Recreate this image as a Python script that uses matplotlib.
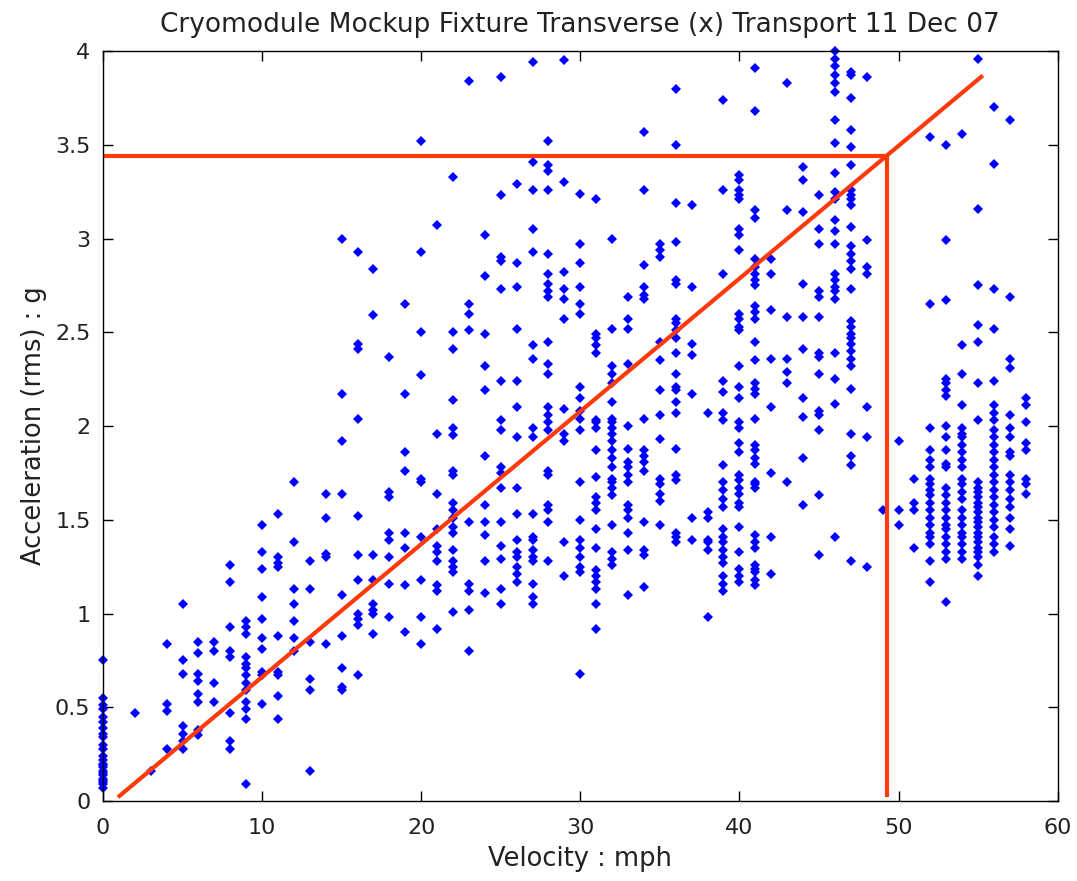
import numpy as np
import matplotlib.pyplot as plt

# velocity columns (mph) and the rms acceleration points (g) read at each
speeds = list(range(0, 59))
accel = {
    0: [0.75, 0.55, 0.51, 0.49, 0.45, 0.42, 0.39, 0.36, 0.34, 0.30, 0.28, 0.24, 0.22, 0.20,
        0.19, 0.18, 0.16, 0.15, 0.14, 0.12, 0.11, 0.10, 0.09, 0.07],
    2: [0.47],
    3: [0.16],
    4: [0.84, 0.52, 0.48, 0.28],
    5: [1.05, 0.75, 0.68, 0.40, 0.36, 0.32, 0.28],
    6: [0.85, 0.79, 0.68, 0.64, 0.57, 0.53, 0.38, 0.35],
    7: [0.85, 0.80, 0.63, 0.53],
    8: [1.26, 1.17, 0.93, 0.80, 0.77, 0.47, 0.32, 0.28],
    9: [0.96, 0.93, 0.89, 0.77, 0.73, 0.71, 0.67, 0.63, 0.59, 0.53, 0.49, 0.44, 0.09],
    10: [1.47, 1.33, 1.24, 1.09, 0.97, 0.87, 0.81, 0.69, 0.67, 0.52],
    11: [1.53, 1.30, 1.27, 1.25, 0.88, 0.69, 0.67, 0.56, 0.44],
    12: [1.70, 1.38, 1.13, 1.05, 0.96, 0.87, 0.80],
    13: [1.28, 1.13, 0.85, 0.65, 0.59, 0.16],
    14: [1.64, 1.51, 1.32, 1.30, 0.84],
    15: [3.00, 2.17, 1.92, 1.64, 1.10, 0.88, 0.71, 0.61, 0.59],
    16: [2.93, 2.44, 2.41, 2.04, 1.52, 1.31, 1.18, 1.00, 0.97, 0.94, 0.67],
    17: [2.84, 2.59, 1.31, 1.18, 1.05, 1.02, 1.00, 0.89],
    18: [2.37, 1.65, 1.62, 1.43, 1.39, 1.30, 1.16, 0.98],
    19: [2.65, 2.17, 1.86, 1.76, 1.43, 1.35, 1.15, 0.90],
    20: [3.52, 2.93, 2.50, 2.27, 1.72, 1.70, 1.41, 1.18, 0.98, 0.84],
    21: [3.07, 1.96, 1.64, 1.45, 1.36, 1.33, 1.28, 1.15, 1.12, 0.92],
    22: [3.33, 2.50, 2.41, 2.14, 1.99, 1.95, 1.76, 1.74, 1.59, 1.55, 1.51, 1.46, 1.43, 1.34,
         1.28, 1.25, 1.22, 1.01],
    23: [3.84, 2.65, 2.60, 2.51, 1.49, 1.16, 1.12, 1.02, 0.80],
    24: [3.02, 2.80, 2.49, 2.32, 2.19, 1.84, 1.58, 1.49, 1.42, 1.28, 1.11],
    25: [3.86, 3.23, 2.90, 2.88, 2.73, 2.24, 2.03, 1.98, 1.78, 1.75, 1.67, 1.49, 1.36, 1.29,
         1.13, 1.05],
    26: [3.29, 2.87, 2.74, 2.52, 2.24, 2.10, 1.94, 1.67, 1.53, 1.39, 1.33, 1.30, 1.25, 1.21, 1.17],
    27: [3.94, 3.41, 3.26, 3.05, 2.93, 2.43, 2.36, 1.99, 1.94, 1.53, 1.41, 1.39, 1.34, 1.30,
         1.28, 1.16, 1.09, 1.05],
    28: [3.52, 3.39, 3.36, 3.26, 2.92, 2.81, 2.76, 2.72, 2.69, 2.45, 2.33, 2.28, 2.10, 2.06,
         2.02, 1.98, 1.76, 1.74, 1.58, 1.55, 1.49, 1.28],
    29: [3.95, 3.30, 2.82, 2.73, 2.68, 2.57, 2.09, 1.96, 1.92, 1.38, 1.20],
    30: [3.24, 2.97, 2.87, 2.74, 2.65, 2.60, 2.21, 2.15, 2.08, 2.04, 1.98, 1.70, 1.50, 1.39,
         1.35, 1.30, 1.25, 1.22, 0.68],
    31: [3.21, 2.49, 2.47, 2.43, 2.39, 2.03, 2.02, 1.99, 1.87, 1.73, 1.62, 1.59, 1.55, 1.45,
         1.35, 1.23, 1.20, 1.17, 1.13, 1.05, 0.92],
    32: [3.00, 2.52, 2.32, 2.28, 2.23, 2.13, 2.04, 2.02, 1.99, 1.96, 1.92, 1.87, 1.83, 1.78,
         1.72, 1.70, 1.67, 1.63, 1.47, 1.33, 1.29, 1.26],
    33: [2.69, 2.57, 2.52, 2.33, 2.00, 1.88, 1.81, 1.78, 1.74, 1.70, 1.58, 1.55, 1.51, 1.43,
         1.34, 1.10],
    34: [3.57, 3.26, 2.86, 2.74, 2.70, 2.68, 2.04, 1.87, 1.84, 1.81, 1.76, 1.49, 1.34, 1.31, 1.14],
    35: [2.97, 2.94, 2.90, 2.45, 2.35, 2.19, 2.06, 1.93, 1.72, 1.69, 1.64, 1.60, 1.47],
    36: [3.80, 3.50, 3.19, 2.98, 2.78, 2.76, 2.57, 2.55, 2.51, 2.47, 2.39, 2.28, 2.21, 2.19,
         2.13, 2.07, 1.88, 1.74, 1.71, 1.43, 1.41, 1.38],
    37: [3.18, 2.74, 2.44, 2.38, 2.17, 1.51, 1.39],
    38: [2.07, 1.54, 1.51, 1.39, 1.38, 1.34, 0.98],
    39: [3.74, 3.26, 2.81, 2.24, 2.18, 2.07, 2.03, 1.79, 1.70, 1.66, 1.61, 1.57, 1.45, 1.41,
         1.38, 1.34, 1.30, 1.27, 1.20, 1.16, 1.12],
    40: [3.34, 3.31, 3.26, 3.23, 3.21, 3.05, 3.02, 2.94, 2.60, 2.57, 2.53, 2.51, 2.32, 2.21,
         2.15, 2.02, 1.99, 1.91, 1.86, 1.74, 1.71, 1.67, 1.64, 1.59, 1.57, 1.46, 1.33, 1.24,
         1.20, 1.17],
    41: [3.91, 3.68, 3.15, 3.11, 2.89, 2.85, 2.81, 2.78, 2.75, 2.64, 2.61, 2.57, 2.45, 2.35,
         2.23, 2.20, 2.17, 2.04, 1.90, 1.87, 1.83, 1.80, 1.70, 1.69, 1.67, 1.42, 1.38, 1.35,
         1.26, 1.24, 1.22, 1.18, 1.15],
    42: [2.89, 2.81, 2.62, 2.36, 2.10, 1.75, 1.41, 1.21],
    43: [3.83, 3.15, 2.58, 2.36, 2.29, 2.23, 1.70],
    44: [3.38, 3.31, 3.14, 2.76, 2.58, 2.41, 2.15, 2.05, 1.83, 1.58],
    45: [3.23, 3.05, 2.97, 2.72, 2.69, 2.58, 2.39, 2.37, 2.28, 2.08, 2.06, 1.98, 1.63, 1.31],
    46: [4.00, 3.96, 3.92, 3.87, 3.83, 3.78, 3.63, 3.51, 3.35, 3.25, 3.21, 3.10, 3.04, 2.97,
         2.81, 2.78, 2.74, 2.72, 2.68, 2.39, 2.25, 2.12, 1.41],
    47: [3.89, 3.87, 3.75, 3.58, 3.49, 3.39, 3.26, 3.23, 3.21, 3.18, 3.06, 2.96, 2.92, 2.88,
         2.84, 2.73, 2.56, 2.53, 2.49, 2.47, 2.44, 2.40, 2.36, 2.32, 2.20, 1.96, 1.84, 1.79, 1.28],
    48: [3.86, 2.99, 2.85, 2.81, 2.10, 1.94, 1.25],
    49: [1.55],
    50: [1.92, 1.55, 1.47],
    51: [1.72, 1.59, 1.55, 1.35],
    52: [3.54, 2.65, 1.99, 1.87, 1.82, 1.78, 1.72, 1.69, 1.66, 1.63, 1.59, 1.55, 1.51, 1.47,
         1.43, 1.41, 1.37, 1.28, 1.17],
    53: [3.50, 2.99, 2.67, 2.25, 2.23, 2.19, 2.16, 2.00, 1.94, 1.87, 1.80, 1.78, 1.67, 1.63,
         1.59, 1.55, 1.51, 1.47, 1.45, 1.41, 1.37, 1.33, 1.29, 1.06],
    54: [3.56, 2.43, 2.28, 2.11, 1.99, 1.96, 1.94, 1.90, 1.86, 1.82, 1.78, 1.72, 1.69, 1.65,
         1.61, 1.55, 1.51, 1.47, 1.43, 1.41, 1.37, 1.33, 1.29],
    55: [3.96, 3.16, 2.75, 2.54, 2.45, 2.23, 2.03, 1.70, 1.67, 1.65, 1.62, 1.59, 1.57, 1.54,
         1.51, 1.49, 1.46, 1.43, 1.41, 1.38, 1.35, 1.33, 1.30, 1.26, 1.20],
    56: [3.70, 3.40, 2.73, 2.52, 2.24, 2.11, 2.07, 2.03, 1.98, 1.94, 1.90, 1.86, 1.82, 1.78,
         1.74, 1.70, 1.66, 1.62, 1.58, 1.54, 1.50, 1.46, 1.41, 1.37, 1.33],
    57: [3.63, 2.69, 2.36, 2.31, 2.06, 1.99, 1.94, 1.86, 1.84, 1.74, 1.70, 1.66, 1.61, 1.57,
         1.51, 1.45, 1.36],
    58: [2.15, 2.11, 2.02, 1.91, 1.87, 1.72, 1.69, 1.64],
}

# hand drawn red guide lines
fit_x = [0.94, 55.3]
fit_y = [0.02, 3.87]
limit_v = 49.3
limit_g = 3.44

vel = []
acc = []
for v in speeds:
    for a in accel.get(v, []):
        vel.append(v)
        acc.append(a)

plt.rcParams['font.family'] = ['DejaVu Sans']

fig = plt.figure(figsize=(10.77, 8.81), dpi=100)
ax = fig.add_axes([0.0956, 0.0908, 0.8864, 0.8512])

ax.plot(vel, acc, "D", color="#0000ff", markersize=5, markeredgewidth=0, clip_on=False)

red = "#ff3a0a"
ax.plot(fit_x, fit_y, color=red, linewidth=3, solid_capstyle="butt")
ax.plot([0, limit_v], [limit_g, limit_g], color=red, linewidth=3, solid_capstyle="butt")
ax.plot([limit_v, limit_v], [0.02, limit_g], color=red, linewidth=3, solid_capstyle="butt")

ax.set_xlim(0, 60)
ax.set_ylim(0, 4)
ax.set_xticks(np.arange(0, 61, 10))
ax.set_yticks(np.arange(0, 4.01, 0.5))
ax.set_yticklabels(["0", "0.5", "1", "1.5", "2", "2.5", "3", "3.5", "4"])
ax.tick_params(direction="in", top=True, right=True, length=7, width=1, labelsize=16,
               labelcolor="#222222")
ax.tick_params(axis="x", pad=12)
ax.tick_params(axis="y", pad=9)
for s in ax.spines.values():
    s.set_linewidth(1)

ax.set_xlabel("Velocity : mph", fontsize=18.5, labelpad=6, color="#222222")
ax.set_ylabel("Acceleration (rms) : g", fontsize=18.5, labelpad=6, color="#222222")
ax.set_title("Cryomodule Mockup Fixture Transverse (x) Transport 11 Dec 07",
             fontsize=19, pad=14, color="#222222")

fig.savefig("out.png", dpi=100)
